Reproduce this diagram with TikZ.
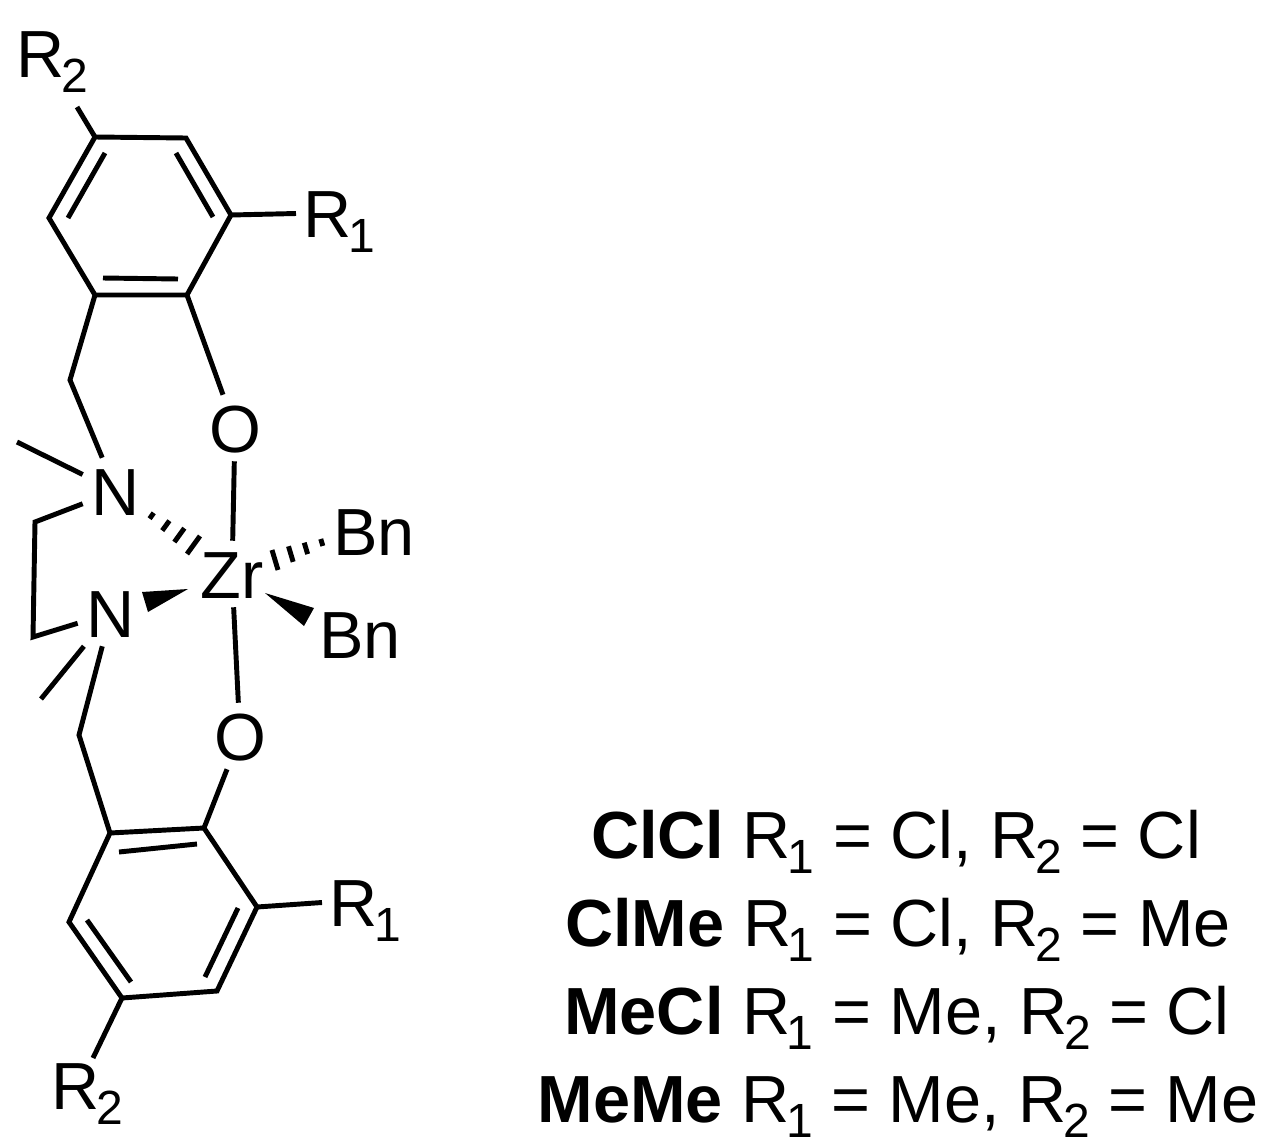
\documentclass[tikz,border=0pt]{standalone}
\usepackage{fontspec}
\setmainfont{Liberation Sans}
\usetikzlibrary{calc}
\newcommand{\subnum}[1]{\kern-2.5pt\raisebox{-11.25pt}{\fontsize{36}{36}\selectfont #1}}
\tikzset{
  bond/.style={line width=3.7pt, line join=miter},
  hash/.style={line width=3.7pt},
  atom/.style={inner sep=6.75pt, text height=36pt, text depth=0pt, font=\fontsize{50}{60}\selectfont},
  rlabel/.style={anchor=base west, inner xsep=5.25pt, inner ysep=0pt, text height=35.25pt, text depth=0pt, font=\fontsize{50}{60}\selectfont},
  caption/.style={anchor=base, inner sep=0pt, font=\fontsize{50}{60}\selectfont}
}

\begin{document}
\begin{tikzpicture}[x = .75pt, y = -.75pt]
\useasboundingbox (0, 0) rectangle (1271, 1146);

% metal centre and donor atoms
\node[atom] (Zr) at (232, 574) {Zr};
\node[atom] (Oa) at (235, 428) {O};
\node[atom] (Ob) at (240, 736) {O};
\node[atom] (Na) at (116, 491) {N};
\node[atom] (Nb) at (111, 613) {N};
\node[anchor=base west, inner sep=0pt, font=\fontsize{50}{60}\selectfont] (Bna) at (333, 555) {Bn};
\node[anchor=base west, inner sep=0pt, font=\fontsize{50}{60}\selectfont] (Bnb) at (319, 658) {Bn};

% upper ring
\coordinate (a) at (95, 137);
\coordinate (b) at (186, 138);
\coordinate (c) at (231, 215);
\coordinate (d) at (187, 295);
\coordinate (e) at (95, 295);
\coordinate (f) at (49, 218);
\node[rlabel] (Rta) at (296, 237) {R\subnum{1}};
\node[rlabel] (Rtb) at (9, 77) {R\subnum{2}};
\coordinate (Rtbend) at (77, 107);

\draw[bond] (a) -- (b) -- (c) -- (d) -- (e) -- (f) -- cycle;
\draw[bond] (105, 153) -- (68, 218);
\draw[bond] (176, 153) -- (213, 217);
\draw[bond] (103, 278) -- (178, 279);
\draw[bond] (c) -- (Rta.west);
\draw[bond] (a) -- (Rtbend);
\draw[bond] (d) -- (Oa);

% lower ring
\coordinate (g) at (110, 833);
\coordinate (h) at (204, 828);
\coordinate (i) at (257, 907);
\coordinate (j) at (217, 991);
\coordinate (k) at (122, 998);
\coordinate (l) at (69, 922);
\node[rlabel] (Rba) at (322, 926) {R\subnum{1}};
\node[rlabel] (Rbb) at (44, 1109) {R\subnum{2}};
\coordinate (Rbbend) at (93, 1058);

\draw[bond] (g) -- (h) -- (i) -- (j) -- (k) -- (l) -- cycle;
\draw[bond] (119, 852) -- (197, 844);
\draw[bond] (238, 908) -- (205, 977);
\draw[bond] (131, 982) -- (87, 920);
\draw[bond] (i) -- (Rba.west);
\draw[bond] (k) -- (Rbbend);
\draw[bond] (h) -- (Ob);

% ligand backbone
\coordinate (cha) at (70, 380);
\coordinate (chb) at (79, 735);
\coordinate (cea) at (35, 522);
\coordinate (ceb) at (33, 637);
\coordinate (mea) at (17, 442);
\coordinate (meb) at (41, 699);

\draw[bond] (e) -- (cha) -- (Na);
\draw[bond] (g) -- (chb) -- (Nb);
\draw[bond] (Na) -- (cea) -- (ceb) -- (Nb);
\draw[bond] (mea) -- (Na);
\draw[bond] (meb) -- (Nb);

% bonds at Zr
\draw[bond] (Oa) -- (Zr);
\draw[bond] (Zr) -- (Ob);

% solid wedges
\coordinate (wna) at (188, 589);
\coordinate (wnb) at (142, 592);
\coordinate (wnc) at (148, 612);
\coordinate (wba) at (265, 593);
\coordinate (wbb) at (314, 608);
\coordinate (wbc) at (304, 626);
\fill (wna) -- (wnb) -- (wnc) -- cycle;
\fill (wba) -- (wbb) -- (wbc) -- cycle;

% hashed wedges
\coordinate (hna) at (132, 502);
\coordinate (hnb) at (187, 554);
\coordinate (hnc) at (200, 536);
\coordinate (hba) at (347, 533);
\coordinate (hbb) at (272, 550);
\coordinate (hbc) at (278, 570);
\draw[hash] ($(hna)!.32!(hnb)$) -- ($(hna)!.32!(hnc)$);
\draw[hash] ($(hna)!.55!(hnb)$) -- ($(hna)!.55!(hnc)$);
\draw[hash] ($(hna)!.77!(hnb)$) -- ($(hna)!.77!(hnc)$);
\draw[hash] (hnb) -- (hnc);
\draw[hash] ($(hba)!.35!(hbb)$) -- ($(hba)!.35!(hbc)$);
\draw[hash] ($(hba)!.57!(hbb)$) -- ($(hba)!.57!(hbc)$);
\draw[hash] ($(hba)!.78!(hbb)$) -- ($(hba)!.78!(hbc)$);
\draw[hash] (hbb) -- (hbc);

% legend
\node[caption] (capa) at (896, 858) {\textbf{ClCl} R\subnum{1} = Cl, R\subnum{2} = Cl};
\node[caption] (capb) at (898, 946) {\textbf{ClMe} R\subnum{1} = Cl, R\subnum{2} = Me};
\node[caption] (capc) at (897, 1034) {\textbf{MeCl} R\subnum{1} = Me, R\subnum{2} = Cl};
\node[caption] (capd) at (898, 1122) {\textbf{MeMe} R\subnum{1} = Me, R\subnum{2} = Me};

\end{tikzpicture}
\end{document}
